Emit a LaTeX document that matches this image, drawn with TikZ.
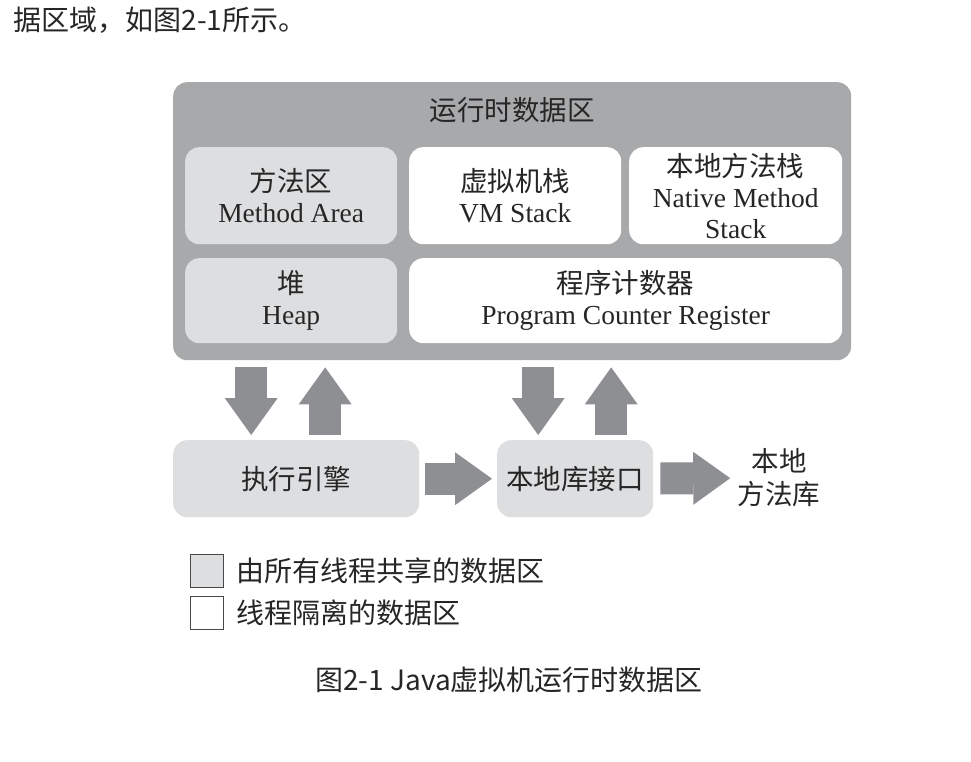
\documentclass[tikz,border=0pt]{standalone}
\usepackage{fontspec}
\setmainfont{Liberation Serif}
\newfontfamily\cjk{Noto Sans CJK SC}
\usetikzlibrary{arrows.meta}
\definecolor{areagray}{HTML}{A8A9AB}
\definecolor{sharegray}{HTML}{DDDEE0}
\definecolor{arrowgray}{HTML}{8E8F93}
\definecolor{inkgray}{HTML}{262626}
\begin{document}
\begin{tikzpicture}[x=1pt,y=-1pt,
  every node/.style={text=inkgray,font=\fontsize{27.5}{31}\selectfont},
  region/.style={rounded corners=14pt,inner sep=0pt,align=center,anchor=north west},
  shared/.style={region,fill=sharegray},
  private/.style={region,fill=white},
  bigarrow/.style={arrowgray,line width=32pt,-{Triangle[width=53pt,length=37pt,line width=0pt]}},
  keybox/.style={draw=inkgray!85,line width=1.2pt,minimum size=33pt,inner sep=0pt,anchor=north west},
  sanstext/.style={font=\cjk\fontsize{28}{30}\selectfont}]
\useasboundingbox (0,0) rectangle (971,762);
\node[sanstext,anchor=west] (intro) at (10,20) {据区域，如图2-1所示。};
\node[region,fill=areagray,minimum width=678pt,minimum height=278pt] (runtime) at (173,82) {};
\node (title) at (512,110) {\cjk 运行时数据区};
\node[shared,minimum width=212pt,minimum height=97pt] (method) at (185,147) {{\cjk 方法区}\\Method Area};
\node[private,minimum width=212pt,minimum height=97pt] (vmstack) at (409,147) {{\cjk 虚拟机栈}\\VM Stack};
\node[private,minimum width=213pt,minimum height=97pt] (native) at (629,147) {{\cjk 本地方法栈}\\Native Method\\Stack};
\node[shared,minimum width=212pt,minimum height=85pt] (heap) at (185,258) {{\cjk 堆}\\Heap};
\node[private,minimum width=433pt,minimum height=85pt] (counter) at (409,258) {{\cjk 程序计数器}\\Program Counter Register};
\node[shared,minimum width=246pt,minimum height=77pt] (engine) at (173,440) {\cjk 执行引擎};
\node[shared,minimum width=156pt,minimum height=77pt] (nativeif) at (497,440) {\cjk 本地库接口};
\node[align=center,font=\cjk\fontsize{27.5}{33}\selectfont] (nativelib) at (779,478) {本地\\方法库};
\coordinate (downA) at ([xshift=-45pt]engine.north);
\coordinate (upA) at ([xshift=29pt]engine.north);
\coordinate (downB) at ([xshift=-37pt]nativeif.north);
\coordinate (upB) at ([xshift=36pt]nativeif.north);
\draw[bigarrow,shorten <=7pt,shorten >=5pt] (downA |- runtime.south) -- (downA);
\draw[bigarrow,shorten <=5pt,shorten >=7pt] (upA) -- (upA |- runtime.south);
\draw[bigarrow,shorten <=7pt,shorten >=5pt] (downB |- runtime.south) -- (downB);
\draw[bigarrow,shorten <=5pt,shorten >=7pt] (upB) -- (upB |- runtime.south);
\draw[bigarrow,shorten <=6pt,shorten >=5pt] (engine) -- (nativeif);
\draw[bigarrow,shorten <=7pt,shorten >=4pt] (nativeif) -- (nativelib);
\node[keybox,fill=sharegray] (keyshared) at (190,554) {};
\node[sanstext,anchor=west] (keysharedtext) at (233,571) {由所有线程共享的数据区};
\node[keybox,fill=white] (keyprivate) at (190,596) {};
\node[sanstext,anchor=west] (keyprivatetext) at (233,613) {线程隔离的数据区};
\node[sanstext] (caption) at (509,680) {图2-1 Java虚拟机运行时数据区};
\end{tikzpicture}
\end{document}
